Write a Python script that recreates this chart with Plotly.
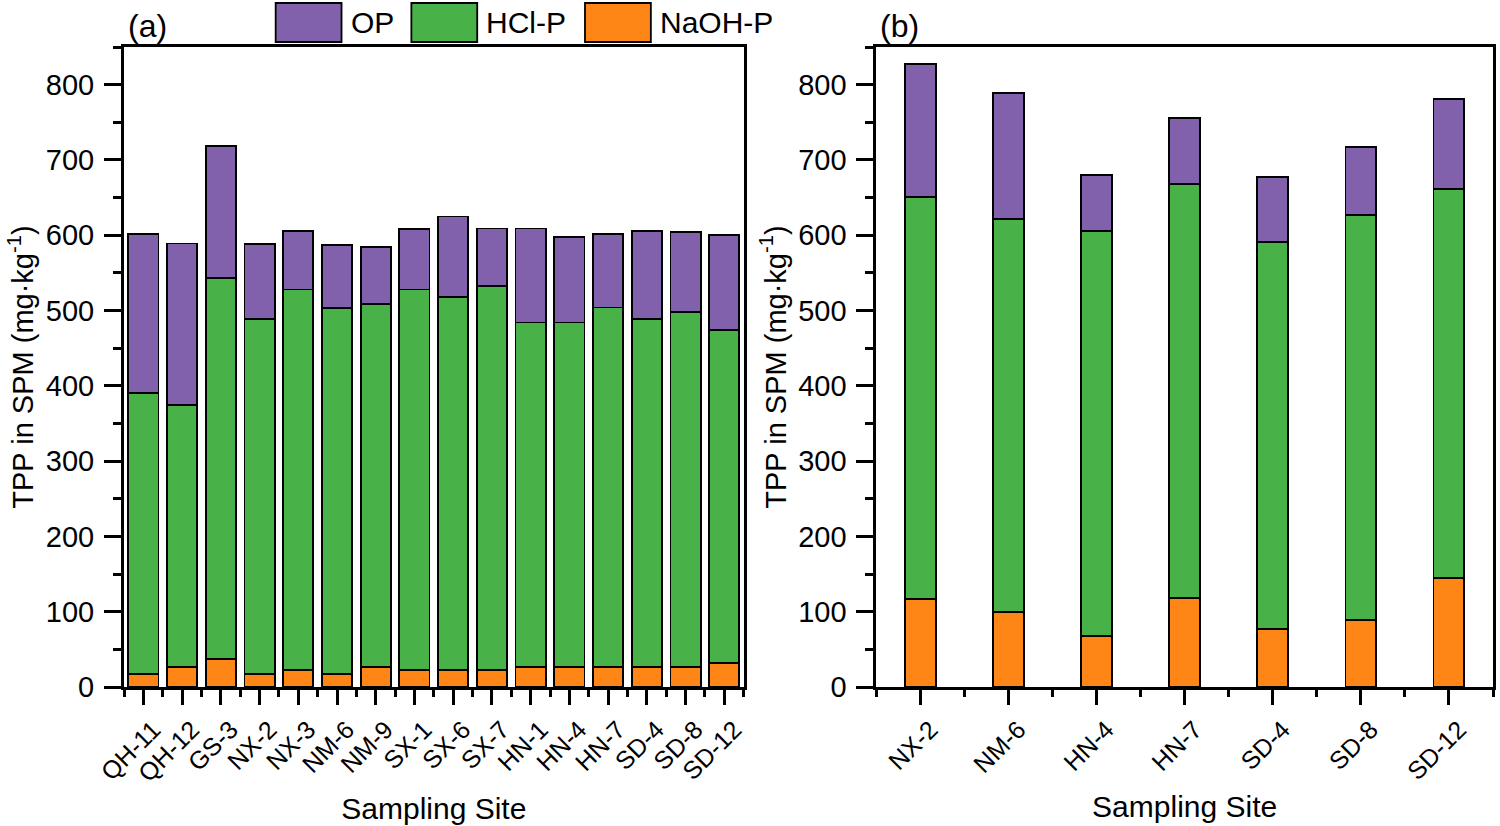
import plotly.graph_objects as go

# ---------------- data ----------------
sites_a = ["QH-11", "QH-12", "GS-3", "NX-2", "NX-3", "NM-6", "NM-9", "SX-1",
           "SX-6", "SX-7", "HN-1", "HN-4", "HN-7", "SD-4", "SD-8", "SD-12"]
naoh_a = [17, 27, 37, 17, 23, 17, 27, 23, 23, 23, 27, 27, 27, 27, 27, 32]
hcl_a = [373, 348, 506, 472, 505, 486, 482, 505, 495, 510, 457, 457, 477, 462, 471, 442]
op_a = [212, 214, 176, 99, 78, 84, 75, 80, 107, 76, 125, 114, 98, 117, 106, 126]

sites_b = ["NX-2", "NM-6", "HN-4", "HN-7", "SD-4", "SD-8", "SD-12"]
naoh_b = [117, 100, 68, 118, 77, 89, 145]
hcl_b = [534, 522, 538, 550, 514, 538, 516]
op_b = [176, 167, 74, 88, 86, 90, 120]

series_names = ["NaOH-P", "HCl-P", "OP"]
colors = {"OP": "#8261AC", "HCl-P": "#48B249", "NaOH-P": "#FD8617"}

y_ticks = [0, 100, 200, 300, 400, 500, 600, 700, 800]

FONT = "Liberation Sans, Arial, sans-serif"

# ---------------- figure ----------------
fig = go.Figure()

def add_stack(sites, naoh, hcl, op, xa, ya, width):
    idx = list(range(len(sites)))
    for name, vals in zip(series_names, [naoh, hcl, op]):
        fig.add_trace(go.Bar(
            x=idx, y=vals, name=name, width=width,
            marker=dict(color=colors[name], line=dict(color="black", width=1.8)),
            xaxis=xa, yaxis=ya, showlegend=False,
            customdata=sites, hovertemplate="%{customdata}<br>" + name + ": %{y}<extra></extra>",
        ))

add_stack(sites_a, naoh_a, hcl_a, op_a, "x", "y", 0.78)
add_stack(sites_b, naoh_b, hcl_b, op_b, "x2", "y2", 0.35)

W, H = 1500, 826
L, T = 124, 47
PLOT_R = 1496
PLOT_B = 687
R = W - PLOT_R
B = H - PLOT_B
PW = W - L - R
PH = H - T - B

def px(x):
    return (x - L) / PW

def py(y):
    return (PLOT_B - y) / PH

common_x = dict(
    showline=True, linewidth=3, linecolor="black", mirror=True,
    ticks="outside", ticklen=15, tickwidth=3, tickcolor="black",
    tickangle=-45, tickfont=dict(family=FONT, size=25, color="black"),
    ticklabelshift=10,
    showgrid=False, zeroline=False,
    minor=dict(ticks="outside", ticklen=7, tickwidth=3, tickcolor="black", dtick=1, tick0=0.5),
    title=dict(text="Sampling Site", font=dict(family=FONT, size=30, color="black"), standoff=13),
)
common_y = dict(
    range=[0, 850], showline=True, linewidth=3, linecolor="black", mirror=True,
    ticks="outside", ticklen=17, tickwidth=3, tickcolor="black",
    tickvals=y_ticks, tickfont=dict(family=FONT, size=29, color="black"),
    ticklabelstandoff=4,
    showgrid=False, zeroline=False,
    minor=dict(ticks="outside", ticklen=8, tickwidth=3, tickcolor="black", dtick=50, tick0=0),
    title=dict(text="TPP in SPM (mg·kg<sup>-1</sup>)", font=dict(family=FONT, size=29, color="black"), standoff=4),
)

fig.update_layout(
    width=W, height=H,
    margin=dict(l=L, r=R, t=T, b=B),
    plot_bgcolor="white", paper_bgcolor="white",
    barmode="stack",
    font=dict(family=FONT, color="black"),
    xaxis=dict(common_x, domain=[0, px(745)], anchor="y", range=[-0.5, len(sites_a) - 0.5],
               tickmode="array", tickvals=list(range(len(sites_a))), ticktext=sites_a),
    yaxis=dict(common_y, domain=[0, 1], anchor="x"),
    xaxis2=dict(common_x, domain=[px(878), 1], anchor="y2", range=[-0.5, len(sites_b) - 0.5],
                tickmode="array", tickvals=list(range(len(sites_b))), ticktext=sites_b),
    yaxis2=dict(common_y, domain=[0, 1], anchor="x2"),
    showlegend=False,
)

# panel labels
fig.add_annotation(x=px(126), y=py(26), xref="paper", yref="paper", text="(a)",
                   showarrow=False, xanchor="left", yanchor="middle",
                   font=dict(family=FONT, size=32, color="black"))
fig.add_annotation(x=px(880), y=py(26), xref="paper", yref="paper", text="(b)",
                   showarrow=False, xanchor="left", yanchor="middle",
                   font=dict(family=FONT, size=32, color="black"))

# legend (drawn key)
legend_items = [("OP", 276, 349), ("HCl-P", 412, 485), ("NaOH-P", 586, 659)]
for name, sx, tx in legend_items:
    fig.add_shape(type="rect", xref="paper", yref="paper",
                  x0=px(sx), x1=px(sx + 66), y0=py(42), y1=py(3),
                  fillcolor=colors[name], line=dict(color="black", width=1.8))
    fig.add_annotation(x=px(tx), y=py(22), xref="paper", yref="paper", text=name,
                       showarrow=False, xanchor="left", yanchor="middle",
                       font=dict(family=FONT, size=30, color="black"))

fig.write_html("out.html", config={"displayModeBar": False},
               post_script="document.body.style.margin='0px';")
